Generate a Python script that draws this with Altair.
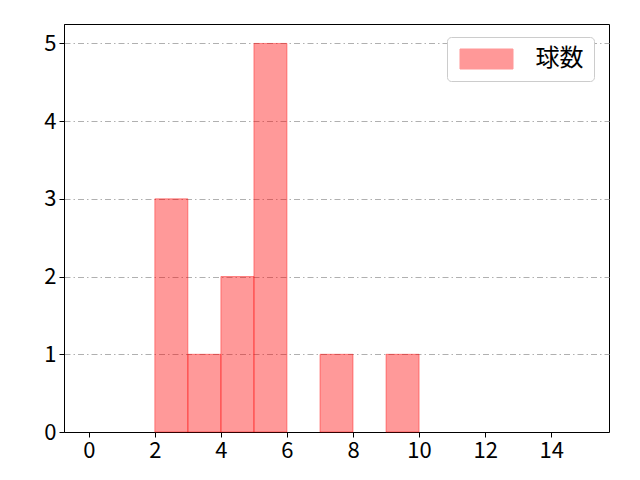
import pandas as pd
import altair as alt

# histogram bins (width 1) and their counts
bin_start = [2, 3, 4, 5, 7, 9]
counts = [3, 1, 2, 5, 1, 1]
series = "球数"

x_ticks = [0, 2, 4, 6, 8, 10, 12, 14]
y_ticks = [0, 1, 2, 3, 4, 5]

df = pd.DataFrame({
    "start": bin_start,
    "end": [b + 1 for b in bin_start],
    "count": counts,
    "series": [series] * len(bin_start),
})

FONT = "Noto Sans CJK JP"

bars = alt.Chart(df).mark_rect(
    fill="red",
    fillOpacity=0.4,
    stroke="red",
    strokeOpacity=0.4,
    strokeWidth=1,
).encode(
    x=alt.X("start:Q", scale=alt.Scale(domain=[-0.75, 15.75], nice=False, zero=False),
            axis=alt.Axis(values=x_ticks, title=None, grid=False, format="d")),
    x2="end:Q",
    y=alt.Y("count:Q", scale=alt.Scale(domain=[0, 5.25], nice=False),
            axis=alt.Axis(values=y_ticks, title=None, grid=True, format="d",
                          gridColor="#b0b0b0", gridDash=[6, 3, 1.5, 3], gridWidth=1)),
    y2=alt.datum(0),
    color=alt.Color("series:N", scale=alt.Scale(range=["red"]), title=None,
                    legend=alt.Legend(
                        orient="none", legendX=383, legendY=13,
                        # wide patch like matplotlib's legend handle
                        symbolType="M-2.65,-1L2.65,-1L2.65,1L-2.65,1Z",
                        symbolSize=400, symbolOpacity=0.4,
                        symbolStrokeColor="red", symbolStrokeWidth=1,
                        symbolOffset=17.5,
                        labelFontSize=24, labelFont=FONT, labelColor="black",
                        labelOffset=37, padding=10,
                        strokeColor="#cccccc", cornerRadius=4, fillColor="white",
                    )),
)

chart = bars.properties(
    width=545,
    height=408,
    autosize=alt.AutoSizeParams(type="none"),
    padding={"left": 56, "top": 16, "right": 23, "bottom": 40},
).configure_view(
    stroke="black", strokeWidth=1
).configure_axis(
    domainColor="black", tickColor="black", tickSize=5,
    labelFontSize=22, labelFont=FONT, labelColor="black", labelPadding=3,
)

chart.save("out.html", embed_options={"renderer": "svg", "actions": False})
